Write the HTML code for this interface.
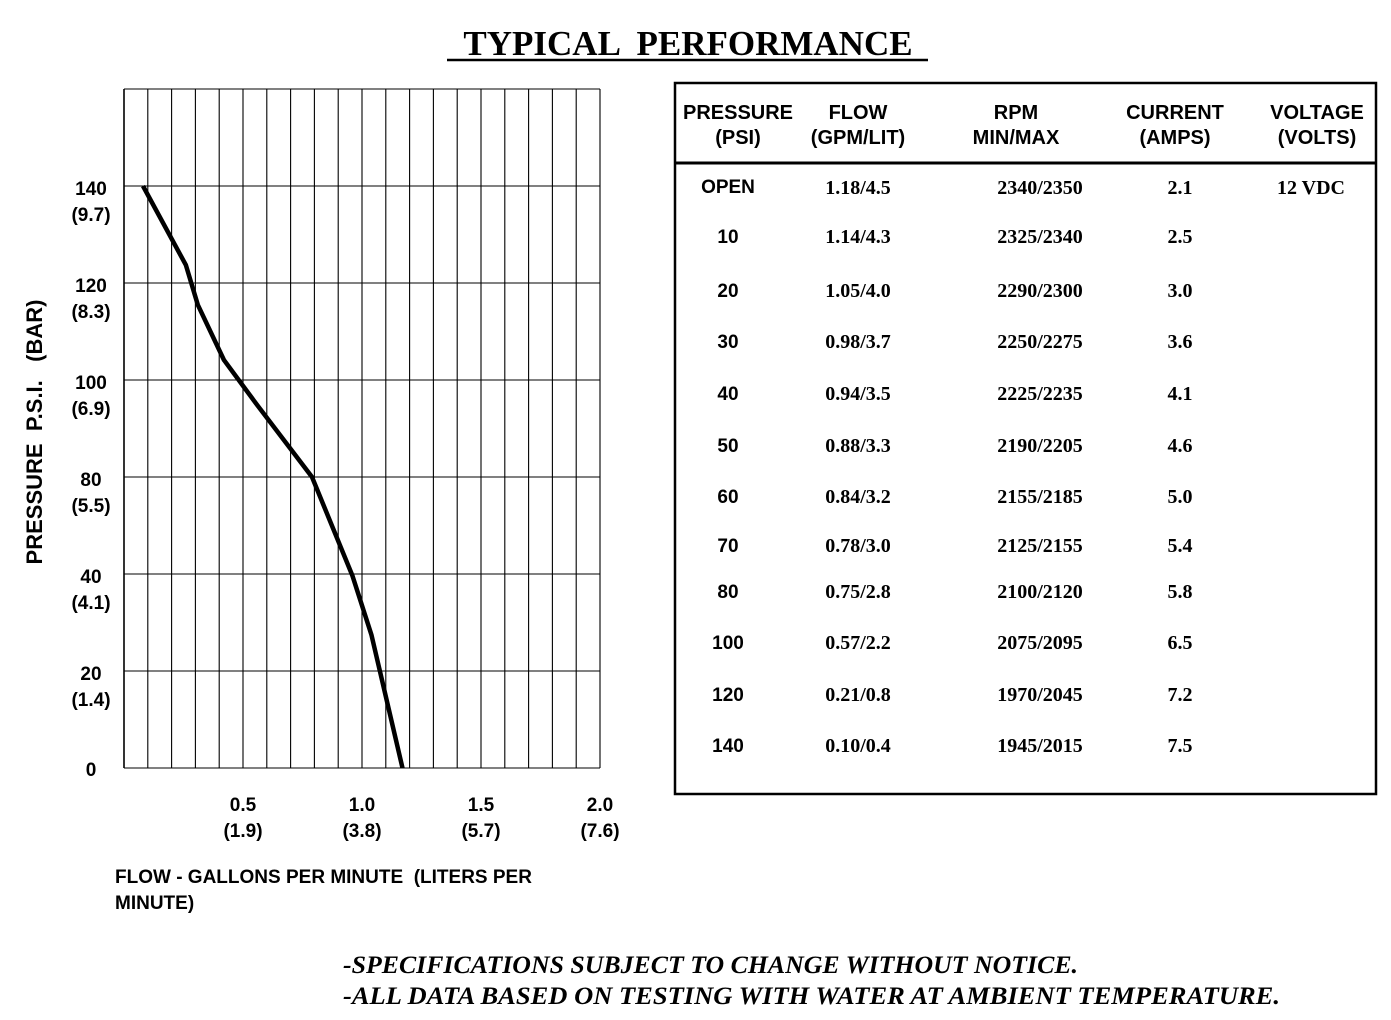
<!DOCTYPE html>
<html><head><meta charset="utf-8"><style>
html,body{margin:0;padding:0;background:#fff;}
svg{display:block;}
.sans{font-family:"Liberation Sans",sans-serif;font-weight:bold;}
.serif{font-family:"Liberation Serif",serif;font-weight:bold;}
</style></head><body>
<svg id="root" width="1391" height="1020" viewBox="0 0 1391 1020" xmlns="http://www.w3.org/2000/svg">
<text class="serif" x="688" y="55" font-size="35" text-anchor="middle" xml:space="preserve">TYPICAL  PERFORMANCE</text>
<line x1="447" y1="60" x2="928" y2="60" stroke="#000" stroke-width="2.5"/>
<g id="grid"></g>
<g id="yticks"></g>
<g id="xticks"></g>
<path id="curve" fill="none" stroke="#000" stroke-width="4.5" stroke-linejoin="round"/>
<text class="sans" font-size="22" transform="translate(42,432) rotate(-90)" text-anchor="middle" xml:space="preserve">PRESSURE  P.S.I.   (BAR)</text>
<text class="sans" font-size="19" x="115" y="883" xml:space="preserve">FLOW - GALLONS PER MINUTE  (LITERS PER</text>
<text class="sans" font-size="19" x="115" y="909">MINUTE)</text>
<rect x="675" y="83" width="701" height="711" fill="none" stroke="#000" stroke-width="2.5"/>
<line x1="675" y1="163" x2="1376" y2="163" stroke="#000" stroke-width="3"/>
<g id="table"></g>
<text class="serif" font-style="italic" font-size="25" x="343" y="973" textLength="735" lengthAdjust="spacingAndGlyphs">-SPECIFICATIONS SUBJECT TO CHANGE WITHOUT NOTICE.</text>
<text class="serif" font-style="italic" font-size="25" x="343" y="1004" textLength="937" lengthAdjust="spacingAndGlyphs">-ALL DATA BASED ON TESTING WITH WATER AT AMBIENT TEMPERATURE.</text>
</svg>
<script>
const flowValues=[0.08,0.26,0.31,0.42,0.56,0.79,0.96,1.04,1.17];
const pressureValues=[120,103.7,95.5,84.1,74.8,60,39.6,27.4,0];
const yTickValues=[0,20,40,60,80,100,120];
const yTickLabels=["0","20","40","80","100","120","140"];
const yTickSub=["","(1.4)","(4.1)","(5.5)","(6.9)","(8.3)","(9.7)"];
const xTickValues=[0.5,1.0,1.5,2.0];
const xTickLabels=["0.5","1.0","1.5","2.0"];
const xTickSub=["(1.9)","(3.8)","(5.7)","(7.6)"];
const headers=[["PRESSURE","(PSI)"],["FLOW","(GPM/LIT)"],["RPM","MIN/MAX"],["CURRENT","(AMPS)"],["VOLTAGE","(VOLTS)"]];
const colPressure=["OPEN","10","20","30","40","50","60","70","80","100","120","140"];
const colFlow=["1.18/4.5","1.14/4.3","1.05/4.0","0.98/3.7","0.94/3.5","0.88/3.3","0.84/3.2","0.78/3.0","0.75/2.8","0.57/2.2","0.21/0.8","0.10/0.4"];
const colRpm=["2340/2350","2325/2340","2290/2300","2250/2275","2225/2235","2190/2205","2155/2185","2125/2155","2100/2120","2075/2095","1970/2045","1945/2015"];
const colCurrent=["2.1","2.5","3.0","3.6","4.1","4.6","5.0","5.4","5.8","6.5","7.2","7.5"];
const colVoltage=["12 VDC","","","","","","","","","","",""];

const NS="http://www.w3.org/2000/svg";
const X0=124,X1=600,Y0=768,Y1=89;
const xs=v=>X0+(v-0)/(2.0-0)*(X1-X0);
const ys=v=>Y0-(v-0)/(140-0)*(Y0-Y1);
function mk(tag,attrs,parent,txt){const e=document.createElementNS(NS,tag);for(const k in attrs)e.setAttribute(k,attrs[k]);if(txt!==undefined)e.textContent=txt;parent.appendChild(e);return e;}
const grid=document.getElementById('grid');
for(let i=0;i<=20;i++){const l=mk('line',{x1:xs(i*0.1),x2:xs(i*0.1),y1:Y1,y2:Y0,stroke:'#000','stroke-width':(i==0?1.6:1.1)},grid);

}
for(let v=0;v<=140;v+=20){const l=mk('line',{x1:X0,x2:X1,y1:ys(v),y2:ys(v),stroke:'#000','stroke-width':1.1},grid);

}
const yt=document.getElementById('yticks');
yTickValues.forEach((v,i)=>{const y=ys(v);
const t=mk('text',{x:91,y:y+(i==0?8:9),class:'sans','font-size':19,'text-anchor':'middle'},yt,yTickLabels[i]);


if(yTickSub[i]){const s=mk('text',{x:91,y:y+35,class:'sans','font-size':19,'text-anchor':'middle'},yt,yTickSub[i]);

}});
const xt=document.getElementById('xticks');
xTickValues.forEach((v,i)=>{const x=xs(v);
const t=mk('text',{x:x,y:811,class:'sans','font-size':19,'text-anchor':'middle'},xt,xTickLabels[i]);


const s=mk('text',{x:x,y:837,class:'sans','font-size':19,'text-anchor':'middle'},xt,xTickSub[i]);

});
document.getElementById('curve').setAttribute('d',flowValues.map((f,i)=>(i?'L':'M')+xs(f).toFixed(1)+','+ys(pressureValues[i]).toFixed(1)).join(''));
const tb=document.getElementById('table');
const hx=[738,858,1016,1175,1317];
headers.forEach((h,i)=>{h.forEach((s,j)=>{const t=mk('text',{x:hx[i],y:119+j*25,class:'sans','font-size':20,'text-anchor':'middle'},tb,s);

});});
const rowY=[194,243,297,348,400,452,503,552,598,649,701,752];
const cx=[728,858,1040,1180,1311];
const cols=[colPressure,colFlow,colRpm,colCurrent,colVoltage];
rowY.forEach((y,r)=>{cols.forEach((c,k)=>{if(!c[r])return;
const sans=k==0;
const t=mk('text',{x:cx[k],y:(k==0&&r==0)?y-1:y,class:sans?'sans':'serif','font-size':sans?19:20,'text-anchor':'middle'},tb,c[r]);

});});
</script>
</body></html>
